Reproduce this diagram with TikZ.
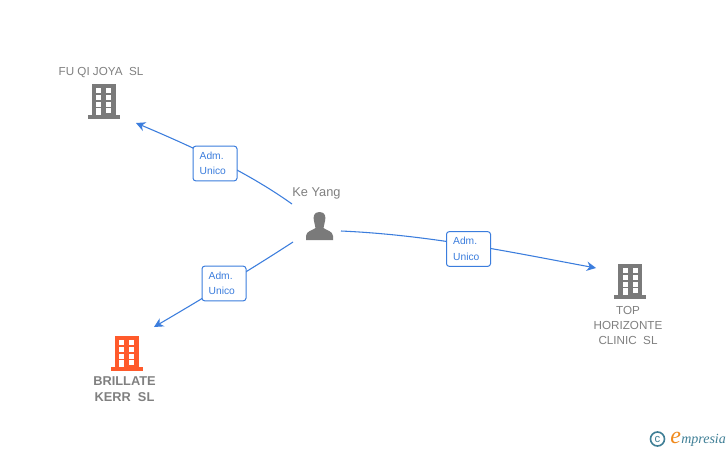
\documentclass[tikz,border=0pt]{standalone}
\usepackage{fontspec}
\setmainfont{Liberation Sans}
\newfontfamily\logoserif{Liberation Serif}
\usetikzlibrary{arrows.meta}
\definecolor{linkblue}{HTML}{3B7DDD}
\definecolor{icongray}{HTML}{7A7A7A}
\definecolor{textgray}{HTML}{808080}
\definecolor{iconorange}{HTML}{FF5A2B}
\definecolor{logoteal}{HTML}{3F7F96}
\definecolor{logoorange}{HTML}{F08A1D}
\tikzset{
  x=0.75pt,y=-0.75pt,
  pics/bldg/.style={code={
    \fill[#1] (-12,-16) rectangle (12,15);
    \fill[#1] (-16,15) rectangle (16,18.5);
    \foreach \wx in {-7.5,2.5}{
      \foreach \wy in {-12,-5,2}{
        \fill[white] (\wx,\wy) rectangle ++(5,4.5);
      }
    }
    \fill[white] (-7.5,8) rectangle ++(5,7);
    \fill[white] (2.5,8) rectangle ++(5,4.5);
  }},
  pics/person/.style={code={
    \fill[icongray] (0,-14) .. controls (-6,-14) and (-6.5,-9) .. (-5.5,-5)
      .. controls (-5,-2) and (-4,-1) .. (-4,2)
      .. controls (-6,4) and (-13.5,5) .. (-13.5,10) -- (-13.5,14) -- (13.5,14) -- (13.5,10)
      .. controls (13.5,5) and (6,4) .. (4,2)
      .. controls (4,-1) and (5,-2) .. (5.5,-5)
      .. controls (6.5,-9) and (6,-14) .. (0,-14) -- cycle;
  }},
  namelabel/.style={font=\fontsize{8.75pt}{11.2pt}\selectfont,text=textgray,align=center,inner sep=0pt},
  boldlabel/.style={font=\fontsize{9.6pt}{11.6pt}\selectfont\bfseries,text=textgray,align=center,inner sep=0pt},
  rolebox/.style={draw=linkblue,fill=white,rounded corners=2pt,line width=0.75pt,minimum width=33pt,minimum height=26pt,
    inner sep=0pt,text width=33pt,align=left,text=linkblue,font=\fontsize{7.7pt}{11.6pt}\selectfont},
  link/.style={draw=linkblue,line width=0.8pt},
  tip/.style={-{Stealth[length=7pt,width=7pt]}},
}
\begin{document}
\begin{tikzpicture}
\useasboundingbox (0,0) rectangle (728,450);
\fill[white] (0,0) rectangle (728,450);

\pic at (103.5,100) {bldg=icongray};
\pic at (630,280) {bldg=icongray};
\pic at (126.5,352) {bldg=iconorange};
\pic at (319.5,226) {person};

\node[namelabel] (fuqi) at (101,72.5) {FU QI JOYA\ \ SL};
\node[boldlabel] (brillate) at (124.5,389) {BRILLATE\\KERR\ \ SL};
\node[namelabel] (top) at (628,325.5) {TOP\\HORIZONTE\\CLINIC\ \ SL};
\node[namelabel,font=\fontsize{9.6pt}{11pt}\selectfont] (keyang) at (316.5,193) {Ke Yang};

\coordinate (a1s) at (292,204);
\coordinate (a1e) at (136,123);
\coordinate (a2s) at (293,242);
\coordinate (a2e) at (154,327);
\coordinate (a3s) at (341,231);
\coordinate (a3e) at (596,268);

\draw[link,tip] (a1s) .. controls (250,174) and (200,150) .. (a1e);
\draw[link,tip] (a2s) .. controls (250,270) and (200,300) .. (a2e);
\draw[link,tip] (a3s) .. controls (430,235) and (510,252) .. (a3e);

\node[rolebox] (r1) at (215,163.5) {\hspace*{5pt}Adm.\\\hspace*{5pt}Unico};
\node[rolebox] (r2) at (224,283.5) {\hspace*{5pt}Adm.\\\hspace*{5pt}Unico};
\node[rolebox] (r3) at (468.5,249) {\hspace*{5pt}Adm.\\\hspace*{5pt}Unico};

\node[draw=logoteal,line width=1.2pt,circle,minimum size=10.5pt,inner sep=0pt,text=logoteal,font=\fontsize{8.5pt}{8.5pt}\selectfont] (copy) at (657.5,439) {c};
\node[inner sep=0pt,anchor=west,font=\logoserif\fontsize{18pt}{18pt}\selectfont\itshape,text=logoorange] (e) at (670,438) {e};
\node[inner sep=0pt,anchor=west,font=\logoserif\fontsize{10.5pt}{10pt}\selectfont\itshape,text=logoteal] (logo) at (681,440) {mpresia};
\end{tikzpicture}
\end{document}
